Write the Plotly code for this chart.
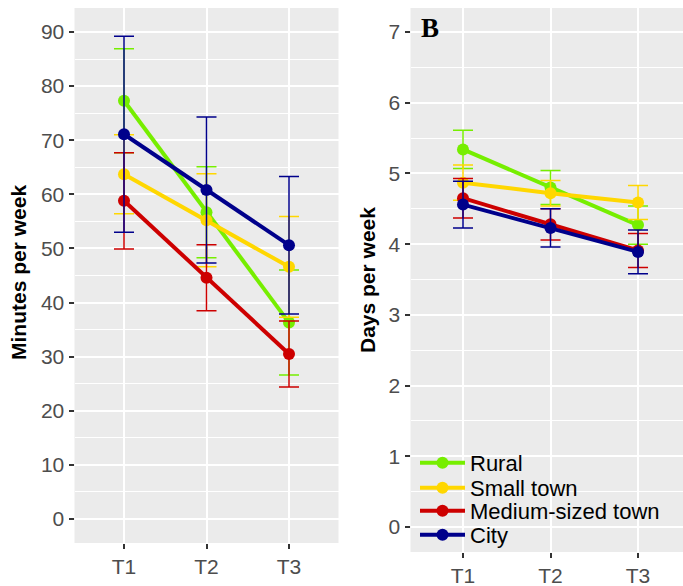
import plotly.graph_objects as go

times = ["T1", "T2", "T3"]
groups = ["Rural", "Small town", "Medium-sized town", "City"]
colors = ["#76EE00", "#FFD700", "#CD0000", "#00008B"]

# Panel A: minutes per week (means and CI half-widths)
min_mean = {
    "Rural": [77.3, 56.7, 36.3],
    "Small town": [63.7, 55.2, 46.6],
    "Medium-sized town": [58.8, 44.6, 30.5],
    "City": [71.1, 60.8, 50.6],
}
min_err = {
    "Rural": [9.6, 8.4, 9.7],
    "Small town": [7.3, 8.6, 9.3],
    "Medium-sized town": [8.9, 6.1, 6.1],
    "City": [18.1, 13.5, 12.7],
}

# Panel B: days per week
day_mean = {
    "Rural": [5.34, 4.80, 4.27],
    "Small town": [4.87, 4.72, 4.59],
    "Medium-sized town": [4.65, 4.28, 3.91],
    "City": [4.56, 4.23, 3.89],
}
day_err = {
    "Rural": [0.27, 0.24, 0.27],
    "Small town": [0.25, 0.18, 0.24],
    "Medium-sized town": [0.28, 0.22, 0.24],
    "City": [0.33, 0.27, 0.31],
}

H = 586.0
W = 683.0
legend_names = ["legend", "legend2", "legend3", "legend4"]
legend_rows = [463, 488, 511, 535]

fig = go.Figure()
for g, c in zip(groups, colors):
    fig.add_trace(go.Scatter(
        x=times, y=min_mean[g], name=g, mode="lines+markers",
        line=dict(color=c, width=4), marker=dict(color=c, size=12),
        error_y=dict(type="data", array=min_err[g], color=c, thickness=1.5, width=10),
        xaxis="x", yaxis="y", showlegend=False,
    ))
for g, c, lg in zip(groups, colors, legend_names):
    fig.add_trace(go.Scatter(
        x=times, y=day_mean[g], name=g, mode="lines+markers",
        line=dict(color=c, width=4), marker=dict(color=c, size=12),
        error_y=dict(type="data", array=day_err[g], color=c, thickness=1.5, width=10),
        xaxis="x2", yaxis="y2", showlegend=True, legend=lg,
    ))

axis_common = dict(
    showgrid=True, gridcolor="white", gridwidth=1.6, zeroline=False,
    ticks="outside", ticklen=5, tickwidth=1.5, tickcolor="#333333",
    tickfont=dict(family="Liberation Sans, Arial", size=21, color="#4D4D4D"),
    showline=False,
)

legend_style = dict(xanchor="left", yanchor="middle", bgcolor="rgba(0,0,0,0)",
                    font=dict(family="Liberation Sans, Arial", size=22, color="black"),
                    itemwidth=45, borderwidth=0)

layout_legends = {}
for lg, row in zip(legend_names, legend_rows):
    layout_legends[lg] = dict(x=415 / W, y=1 - row / H, **legend_style)

fig.update_layout(
    width=683, height=586,
    margin=dict(l=0, r=0, t=0, b=0),
    paper_bgcolor="white", plot_bgcolor="#EBEBEB",
    xaxis=dict(domain=[74.5 / W, 338.5 / W], anchor="y", type="category",
               range=[-0.6, 2.6], **axis_common),
    yaxis=dict(domain=[1 - 543 / H, 1 - 8 / H], anchor="x",
               range=[-4.44, 94.44], tickvals=[0, 10, 20, 30, 40, 50, 60, 70, 80, 90],
               minor=dict(tickvals=[-5, 5, 15, 25, 35, 45, 55, 65, 75, 85, 95], showgrid=True,
                          gridcolor="white", gridwidth=0.8, ticks=""),
               **axis_common),
    xaxis2=dict(domain=[410.5 / W, 1.0], anchor="y2", type="category",
                range=[-0.6, 2.514], **axis_common),
    yaxis2=dict(domain=[1 - 552 / H, 1 - 8 / H], anchor="x2",
                range=[-0.354, 7.34], tickvals=[0, 1, 2, 3, 4, 5, 6, 7],
                minor=dict(tickvals=[0.5, 1.5, 2.5, 3.5, 4.5, 5.5, 6.5], showgrid=True,
                           gridcolor="white", gridwidth=0.8, ticks=""),
                **axis_common),
    showlegend=True,
    **layout_legends,
)

fig.add_annotation(text="<b>Minutes per week</b>", x=19 / W, y=1 - 273 / H, xref="paper", yref="paper",
                   textangle=-90, showarrow=False, xanchor="center", yanchor="middle",
                   font=dict(family="Liberation Sans, Arial", size=21, color="black"))
fig.add_annotation(text="<b>Days per week</b>", x=367 / W, y=1 - 280 / H, xref="paper", yref="paper",
                   textangle=-90, showarrow=False, xanchor="center", yanchor="middle",
                   font=dict(family="Liberation Sans, Arial", size=21, color="black"))
fig.add_annotation(text="<b>B</b>", x=430 / W, y=1 - 28 / H, xref="paper", yref="paper",
                   showarrow=False, xanchor="center", yanchor="middle",
                   font=dict(family="Liberation Serif, Times New Roman", size=27, color="black"))

fig.write_html("out.html")
